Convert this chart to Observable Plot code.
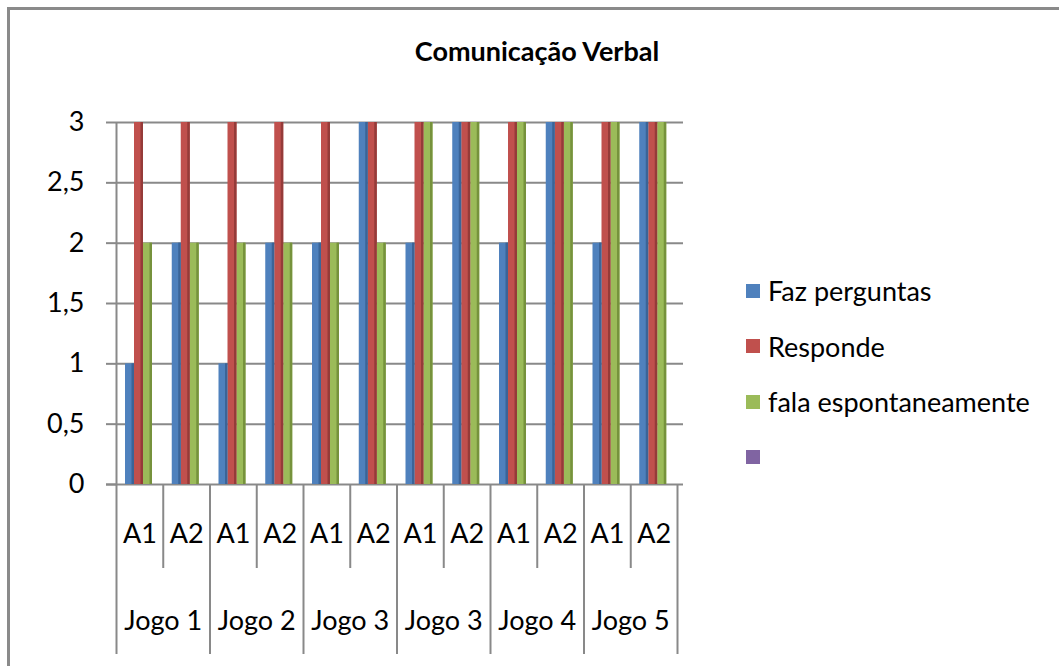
<!DOCTYPE html>
<html><head><meta charset="utf-8">
<script src="https://cdn.jsdelivr.net/npm/d3@7"></script>
<script src="https://cdn.jsdelivr.net/npm/@observablehq/plot@0.6"></script>
<style>
body{margin:0;background:#fff;}
#wrap{position:relative;width:1059px;height:666px;font-family:Lato,"Open Sans",sans-serif;color:#000;overflow:hidden;}
#frame{position:absolute;left:7px;top:7px;right:-10px;bottom:-10px;border-top:3px solid #8a8a8a;border-left:3px solid #8a8a8a;}
#title{position:absolute;left:337px;width:400px;top:34px;text-align:center;font-weight:bold;font-size:27px;white-space:nowrap;}
#legend{position:absolute;left:746px;top:263px;font-size:27px;}
.item{display:flex;align-items:center;height:55.5px;white-space:nowrap;}
.sw{width:14px;height:14px;margin-right:8px;flex:none;}
#plot{position:absolute;left:0;top:0;}
</style></head><body>
<div id="wrap"><div id="frame"></div><div id="plot"></div><div id="title">Comunicação Verbal</div><div id="legend"></div></div>
<script>
const jogos = ["Jogo 1","Jogo 2","Jogo 3","Jogo 3","Jogo 4","Jogo 5"];
const alunos = ["A1","A2"];
const seriesNames = ["Faz perguntas","Responde","fala espontaneamente",""];
const seriesColors = ["#4F81BD","#C0504D","#9BBB59","#8064A2"];
const seriesDark = ["#3B6497","#953B39","#76923C"];
const fazPerguntas = [1,2,1,2,2,3,2,3,2,3,2,3];
const responde = [3,3,3,3,3,3,3,3,3,3,3,3];
const falaEspontaneamente = [2,2,2,2,2,2,3,3,3,3,3,3];
const yTicks = [0,0.5,1,1.5,2,2.5,3];

const seriesValues = [fazPerguntas, responde, falaEspontaneamente];
const cats = d3.range(jogos.length * alunos.length).map(i => ({i, jogo: jogos[Math.floor(i/2)], aluno: alunos[i%2]}));
const groups = jogos.map((name, j) => ({j, name}));
const data = [];
seriesValues.forEach((vals, s) => vals.forEach((v, i) => data.push({i, s, series: seriesNames[s], value: v})));

const bw = 0.1925; // bar width in category units
const x1 = d => d.i + bw * (1 + d.s);
const x2 = d => d.i + bw * (2 + d.s);
const grid = "#898989";

const plot = Plot.plot({
  width: 1059, height: 666,
  marginLeft: 116, marginRight: 382, marginTop: 122, marginBottom: 182,
  x: {type: "linear", domain: [0, 12], axis: null},
  y: {type: "linear", domain: [0, 3], axis: null},
  color: {domain: seriesNames.slice(0,3), range: seriesColors.slice(0,3)},
  style: {fontFamily: "Lato, 'Open Sans', sans-serif", fontSize: "27px", color: "#000", background: "transparent"},
  marks: [
    Plot.ruleY(yTicks.slice(1), {x1: 0, x2: 12, stroke: grid, strokeWidth: 2, insetRight: -6}),
    Plot.ruleY([0], {x1: 0, x2: 12, stroke: grid, strokeWidth: 2, insetLeft: -10, insetRight: -6}),
    Plot.ruleX([0], {stroke: grid, strokeWidth: 2}),
    Plot.axisY({ticks: yTicks, tickFormat: d => String(d).replace(".", ","), tickSize: 10, tickPadding: 22, fontSize: 27, stroke: grid, strokeWidth: 2, fill: "#000", label: null}),
    Plot.rectY(data, {x1, x2, y: "value", fill: "series"}),
    Plot.rectY(data, {x1, x2, y: "value", fill: d => seriesDark[d.s], insetLeft: 6.5}),
    Plot.ruleX(d3.range(0, 13, 2), {y1: 0, y2: 0, stroke: grid, strokeWidth: 2, insetBottom: -170}),
    Plot.ruleX(d3.range(1, 13, 2), {y1: 0, y2: 0, stroke: grid, strokeWidth: 2, insetBottom: -84}),
    Plot.text(cats, {x: d => d.i + 0.5, y: d => 0, text: "aluno", dy: 50, fontSize: 27, fill: "#000"}),
    Plot.text(groups, {x: d => 2 * d.j + 1, y: d => 0, text: "name", dy: 137, fontSize: 27, fill: "#000"})
  ]
});
document.getElementById("plot").appendChild(plot);

const legend = document.getElementById("legend");
seriesNames.forEach((name, s) => {
  const it = document.createElement("div"); it.className = "item";
  const sw = document.createElement("span"); sw.className = "sw"; sw.style.background = seriesColors[s];
  const t = document.createElement("span"); t.textContent = name;
  it.appendChild(sw); it.appendChild(t); legend.appendChild(it);
});
</script>
</body></html>
